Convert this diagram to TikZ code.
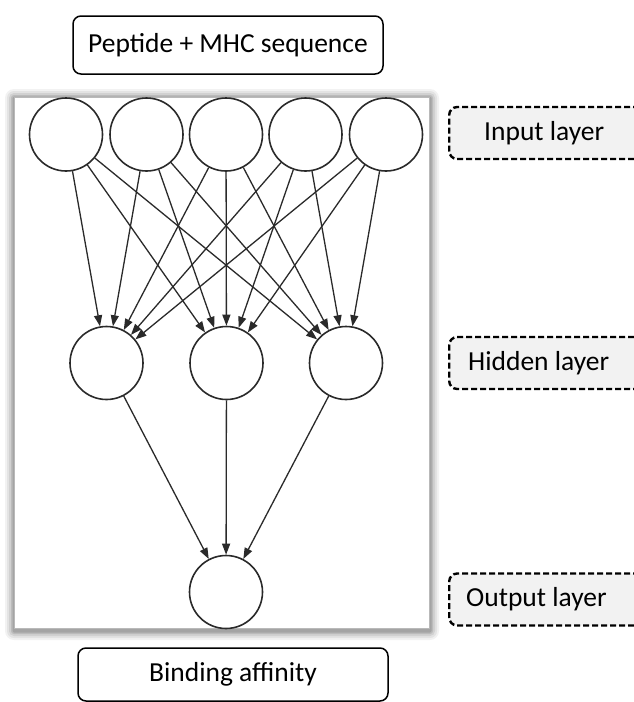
\documentclass[tikz,border=0pt]{standalone}
\usepackage{fontspec}
\setmainfont{Carlito}
\usetikzlibrary{arrows.meta}
\definecolor{linegray}{HTML}{2A2A2A}
\definecolor{boxfill}{HTML}{F2F2F2}
\newcommand{\lbltext}[1]{\makebox[200pt][l]{#1}}
\begin{document}
\begin{tikzpicture}[x=1pt,y=-1pt,
  neuron/.style={circle, draw=linegray, line width=1.6pt, minimum size=73pt, inner sep=0pt, fill=white},
  conn/.style={draw=linegray, line width=1.3pt, -{Triangle[length=11pt,width=8pt]}},
  rbox/.style={draw=black, line width=1.5pt, rounded corners=8pt, minimum width=310pt, inner sep=0pt, font=\fontsize{27.5}{30}\selectfont},
  lbox/.style={draw=black, dash pattern=on 6pt off 3pt, line width=2.4pt, rounded corners=8pt, fill=boxfill,
    minimum height=52pt, inner ysep=0pt, anchor=west, font=\fontsize{27.5}{30}\selectfont}]
\useasboundingbox (0,0) rectangle (634,702);
\clip (0,0) rectangle (634,702);
\fill[white] (0,0) rectangle (634,702);
% shadow of frame
\foreach \i/\o in {9/0.05,7/0.06,5/0.08,3/0.10,1.5/0.12}
  \fill[black,opacity=\o,rounded corners=\i pt] (14-\i,98-\i) rectangle (430+\i,631+\i);
\node[draw=gray!55, fill=white, line width=1pt, minimum width=415pt, minimum height=531pt, inner sep=0pt] (frame) at (221.5,362.5) {};
% top and bottom boxes
\node[rbox, minimum height=58pt] (top) at (228,45) {Peptide + MHC sequence};
\node[rbox, minimum height=53pt] (bot) at (233,674.5) {Binding affinity};
% neurons
\node[neuron] (i1) at (66,134.5) {};
\node[neuron] (i2) at (146.5,134.5) {};
\node[neuron] (i3) at (226,134.5) {};
\node[neuron] (i4) at (305.5,134.5) {};
\node[neuron] (i5) at (386,134.5) {};
\node[neuron] (h1) at (106.5,363) {};
\node[neuron] (h2) at (226.5,363) {};
\node[neuron] (h3) at (346,363) {};
\node[neuron] (o1) at (226,592) {};
\foreach \a in {1,...,5}
  \foreach \b in {1,2,3}
    \draw[conn] (i\a) -- (h\b);
\foreach \b in {1,2,3}
  \draw[conn] (h\b) -- (o1);
% layer labels
\node[lbox, inner xsep=35pt] (lin) at (448,133) {\lbltext{Input layer}};
\node[lbox, inner xsep=19pt] (lhid) at (448,363) {\lbltext{Hidden layer}};
\node[lbox, inner xsep=17pt] (lout) at (448,599.5) {\lbltext{Output layer}};
\end{tikzpicture}
\end{document}
